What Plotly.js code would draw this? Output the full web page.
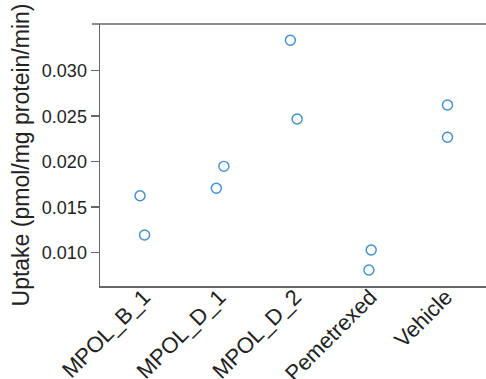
<!DOCTYPE html>
<html>
<head>
<meta charset="utf-8">
<script src="https://cdn.plot.ly/plotly-3.0.1.min.js"></script>
<style>html,body{margin:0;padding:0;background:#fff;}#chart{width:486px;height:379px;}</style>
</head>
<body>
<div id="chart"></div>
<script>
// Data
const categories = ["MPOL_B_1", "MPOL_D_1", "MPOL_D_2", "Pemetrexed", "Vehicle"];
const groupIndex = [0, 0, 1, 1, 2, 2, 3, 3, 4, 4];
const jitter = [-0.05, 0.01, -0.04, 0.06, -0.06, 0.03, 0.01, -0.02, 0.02, 0.02];
const uptake = [0.01626, 0.01195, 0.01708, 0.01949, 0.03334, 0.02469, 0.01030, 0.00810, 0.02623, 0.02268];
const yTicks = [0.010, 0.015, 0.020, 0.025, 0.030];
const yTickText = ["0.010", "0.015", "0.020", "0.025", "0.030"];

const xs = groupIndex.map((g, i) => g + jitter[i]);

const trace = {
  x: xs, y: uptake, type: "scatter", mode: "markers",
  marker: {symbol: "circle-open", size: 10, color: "#3d8fd1", line: {width: 1.4, color: "#3d8fd1"}},
  hoverinfo: "skip"
};

const layout = {
  width: 486, height: 379,
  margin: {l: 100, r: 0, t: 24, b: 93},
  paper_bgcolor: "#fff", plot_bgcolor: "#fff",
  showlegend: false,
  font: {family: "Liberation Sans, Arial, sans-serif", color: "#222"},
  xaxis: {
    range: [-0.58, 4.53], tickvals: categories.map((c, i) => i), ticktext: categories,
    tickangle: -45, tickfont: {size: 22, color: "#222"}, ticklabelstandoff: -12,
    showgrid: false, zeroline: false, showline: true, linecolor: "#666", linewidth: 1.5,
    ticks: "", mirror: false, fixedrange: true, automargin: false
  },
  yaxis: {
    range: [0.00634, 0.03513], tickvals: yTicks, ticktext: yTickText,
    tickfont: {size: 18, color: "#222"},
    ticks: "outside", ticklen: 8, tickwidth: 1.5, tickcolor: "#666",
    showgrid: false, zeroline: false, showline: true, linecolor: "#666", linewidth: 1.5,
    title: {text: "Uptake (pmol/mg protein/min)", font: {size: 23, color: "#222"}, standoff: 6},
    automargin: false, fixedrange: true
  },
  shapes: [{
    type: "line", xref: "paper", yref: "paper", x0: -8/386, x1: 1, y0: 1, y1: 1,
    line: {color: "#666", width: 1.5}
  }]
};

Plotly.newPlot("chart", [trace], layout, {displayModeBar: false, staticPlot: true});
</script>
</body>
</html>
